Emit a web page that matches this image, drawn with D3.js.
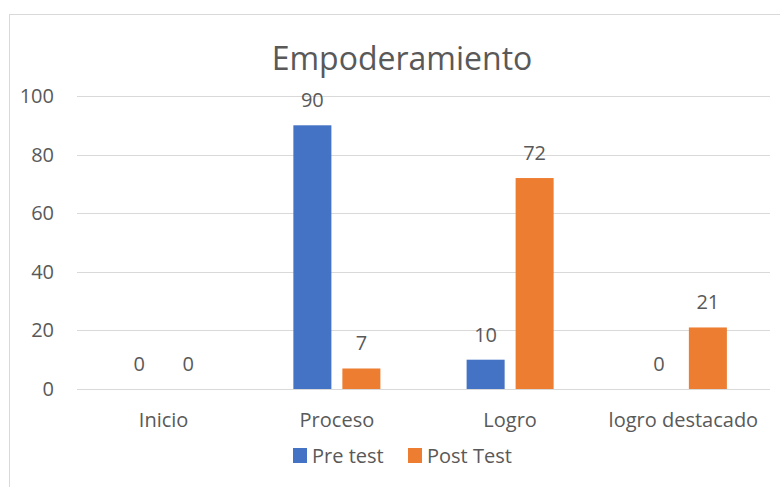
<!DOCTYPE html>
<html>
<head>
<meta charset="utf-8">
<script src="https://cdn.jsdelivr.net/npm/d3@7"></script>
<style>
  body { margin: 0; background: #fff; }
  text { font-family: 'Open Sans', 'Noto Sans', sans-serif; fill: #595959; }
</style>
</head>
<body>
<div id="chart"></div>
<script>
const categories = ['Inicio', 'Proceso', 'Logro', 'logro destacado'];
const seriesNames = ['Pre test', 'Post Test'];
const preTest = [0, 90, 10, 0];
const postTest = [0, 7, 72, 21];
const yTicks = [0, 20, 40, 60, 80, 100];
const colors = ['#4472C4', '#ED7D31'];

const width = 780;
const height = 487;
const margin = { top: 96, right: 10, bottom: 98, left: 77 };

const svg = d3.select('#chart').append('svg')
  .attr('width', width)
  .attr('height', height);

// chart area border
svg.append('rect')
  .attr('x', 9.5).attr('y', 14.5)
  .attr('width', 780).attr('height', 490)
  .attr('fill', 'none')
  .attr('stroke', '#d9d9d9');

const x = d3.scaleBand().domain(categories).range([margin.left, width - margin.right]);
const y = d3.scaleLinear().domain([0, 100]).range([height - margin.bottom, margin.top]);
const x1 = d3.scaleBand().domain(seriesNames).range([0, x.bandwidth()]).paddingInner(0.224).paddingOuter(0.88);

// gridlines
svg.append('g')
  .selectAll('line')
  .data(yTicks)
  .enter().append('line')
  .attr('x1', margin.left).attr('x2', width - margin.right)
  .attr('y1', d => Math.round(y(d)) + 0.5).attr('y2', d => Math.round(y(d)) + 0.5)
  .attr('stroke', '#d9d9d9').attr('stroke-width', 1);

// y axis labels
const yAxis = d3.axisLeft(y).tickValues(yTicks).tickSize(0).tickPadding(0);
svg.append('g')
  .attr('transform', `translate(${margin.left - 23},0)`)
  .call(yAxis)
  .call(g => g.select('.domain').remove())
  .selectAll('text')
  .style('font-size', '20px')
  .attr('fill', '#595959');

// x axis labels
const xAxis = d3.axisBottom(x).tickSize(0).tickPadding(0);
svg.append('g')
  .attr('transform', `translate(0,${height - margin.bottom + 24})`)
  .call(xAxis)
  .call(g => g.select('.domain').remove())
  .selectAll('text')
  .style('font-size', '20px')
  .attr('fill', '#595959');

const rows = categories.map((c, i) => ({ cat: c, vals: [preTest[i], postTest[i]] }));

const groups = svg.selectAll('.cat')
  .data(rows)
  .enter().append('g')
  .attr('class', 'cat')
  .attr('transform', d => `translate(${x(d.cat)},0)`);

groups.selectAll('rect')
  .data(d => d.vals.map((v, j) => ({ v, s: seriesNames[j], j })))
  .enter().append('rect')
  .attr('x', d => x1(d.s))
  .attr('width', x1.bandwidth())
  .attr('y', d => y(d.v))
  .attr('height', d => y(0) - y(d.v))
  .attr('fill', d => colors[d.j]);

groups.selectAll('text.val')
  .data(d => d.vals.map((v, j) => ({ v, s: seriesNames[j], j })))
  .enter().append('text')
  .attr('class', 'val')
  .attr('x', d => x1(d.s) + x1.bandwidth() / 2)
  .attr('y', d => y(d.v) - 18)
  .attr('text-anchor', 'middle')
  .style('font-size', '20px')
  .attr('fill', '#404040')
  .text(d => d.v);

// title
svg.append('text')
  .attr('x', 402).attr('y', 70)
  .attr('text-anchor', 'middle')
  .style('font-size', '32px')
  .text('Empoderamiento');

// legend
const legend = svg.append('g').attr('transform', 'translate(293,448)');
const legendX = [0, 115];
seriesNames.forEach((name, i) => {
  const g = legend.append('g').attr('transform', `translate(${legendX[i]},0)`);
  g.append('rect').attr('width', 14).attr('height', 15).attr('fill', colors[i]);
  g.append('text').attr('x', 19).attr('y', 15).style('font-size', '20px').text(name);
});
</script>
</body>
</html>
